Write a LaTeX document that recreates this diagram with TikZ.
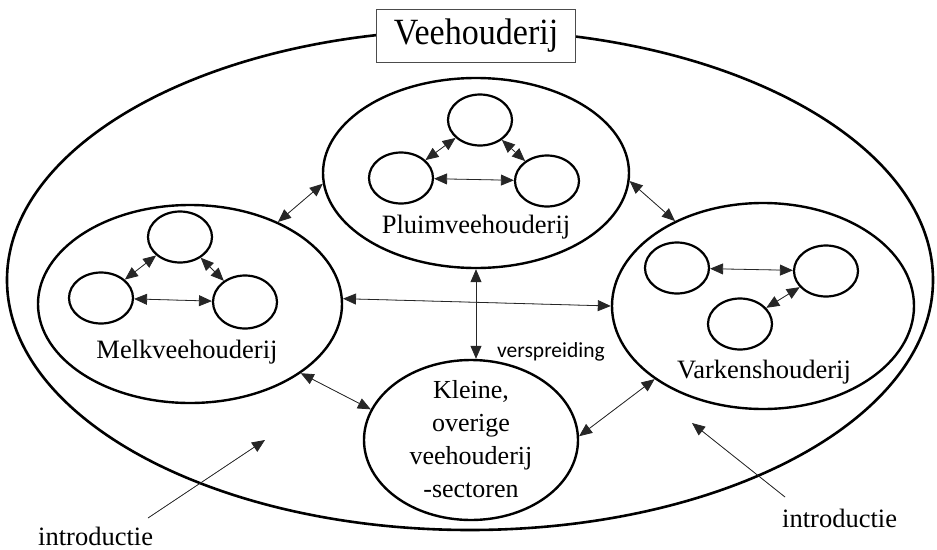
\documentclass[tikz,border=0pt]{standalone}
\usepackage{fontspec}
\setmainfont{Liberation Serif}
\newfontfamily\labelsans{Carlito}
\newfontfamily\titleserif[FakeStretch=0.92]{Liberation Serif}
\usetikzlibrary{shapes.geometric,arrows.meta}
\begin{document}
\begin{tikzpicture}[x=1pt,y=-1pt,
  outer/.style={draw, ellipse, line width=2.6pt, inner sep=0pt},
  sector/.style={draw, ellipse, line width=2.4pt, inner sep=0pt},
  farm/.style={draw, ellipse, line width=2.2pt, inner sep=0pt,
               minimum width=64pt, minimum height=51pt},
  link/.style={{Triangle[length=13pt,width=11pt]}-{Triangle[length=13pt,width=11pt]},
               line width=0.8pt, draw=black!85, fill=black},
  intro/.style={-{Triangle[length=13pt,width=11pt]}, line width=0.8pt, draw=black!85, fill=black},
  sectorlabel/.style={font=\fontsize{26.5}{30}\selectfont, anchor=base, inner sep=0pt},
  plainlabel/.style={font=\fontsize{26.5}{30}\selectfont, anchor=base west, inner sep=0pt},
]
\useasboundingbox (0,0) rectangle (937,549);

% the whole livestock sector
\node[outer, minimum width=926pt, minimum height=500pt] (veeh) at (470,280) {};
\node[draw=black!70, line width=1.2pt, fill=white, minimum width=199pt, minimum height=53pt,
      inner sep=0pt, font=\titleserif\fontsize{37}{40}\selectfont] (title) at (476,36) {Veehouderij};

% the four sub-sectors
\node[sector, minimum width=306pt, minimum height=190pt] (pluim) at (476,173) {};
\node[sector, minimum width=304pt, minimum height=198pt] (melk) at (190,304) {};
\node[sector, minimum width=302pt, minimum height=206pt] (vark) at (763,306) {};
\node[sector, minimum width=214pt, minimum height=160pt] (kleine) at (471,440) {};

% farms inside the poultry sector
\node[farm] (p1) at (480,120) {};
\node[farm] (p2) at (401,178) {};
\node[farm] (p3) at (547,181) {};
\draw[link] (p1) -- (p2);
\draw[link] (p1) -- (p3);
\draw[link] (p2) -- (p3);

% farms inside the dairy sector
\node[farm] (m1) at (180,237) {};
\node[farm] (m2) at (101,298) {};
\node[farm, minimum height=53pt] (m3) at (245,302) {};
\draw[link] (m1) -- (m2);
\draw[link] (m1) -- (m3);
\draw[link] (m2) -- (m3);

% farms inside the pig sector
\node[farm] (v1) at (677,268) {};
\node[farm] (v2) at (826,271) {};
\node[farm] (v3) at (740,324) {};
\draw[link] (v1) -- (v2);
\draw[link] (v2) -- (v3);

% spread between the sectors
\draw[link] (melk.43) -- (pluim.184);
\draw[link] (pluim.-3) -- (vark.136);
\draw[link] (melk.2) -- (vark.180);
\draw[link] (melk.-32) -- (kleine.163);
\draw[link] (vark.214) -- (kleine.2);
\coordinate (kleinetop) at (pluim.south |- kleine.north);
\draw[link] (pluim.south) -- (kleinetop);

% sector names
\node[sectorlabel] (pluimtxt) at (476,233) {Pluimveehouderij};
\node[sectorlabel] (melktxt) at (187,358) {Melkveehouderij};
\node[sectorlabel] (varktxt) at (764,378) {Varkenshouderij};
\node[align=center, inner sep=0pt, font=\fontsize{26}{33}\selectfont] (kleinetxt) at (471,439)
  {Kleine,\\overige\\veehouderij\\-sectoren};
\node[anchor=base west, inner sep=0pt, font=\labelsans\fontsize{21.5}{25}\selectfont] (verspr) at (497,357) {verspreiding};

% introduction from outside
\node[plainlabel] (introL) at (38,545) {introductie};
\node[plainlabel] (introR) at (782,527) {introductie};
\coordinate (introLfrom) at (148,518);
\coordinate (introLto) at (265,440);
\coordinate (introRfrom) at (785,497);
\coordinate (introRto) at (692,423);
\draw[intro] (introLfrom) -- (introLto);
\draw[intro] (introRfrom) -- (introRto);
\end{tikzpicture}
\end{document}
